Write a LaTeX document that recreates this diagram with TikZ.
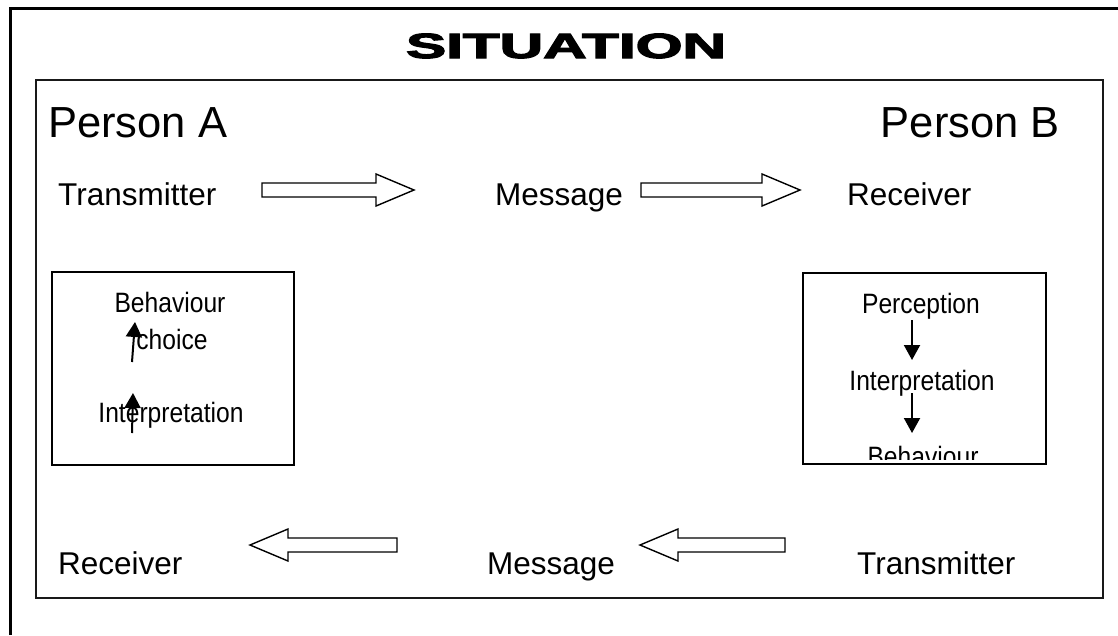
\documentclass[tikz,border=0pt]{standalone}
\usepackage{fontspec}
\setmainfont{Liberation Sans}
\newfontfamily\titlefont{Liberation Sans Bold}[FakeBold=3]
\usetikzlibrary{arrows.meta}
\newcommand\nar[1]{\scalebox{0.88}[1]{#1}}
\tikzset{
  big/.style={inner sep=0pt, font=\fontsize{43.5}{50}\selectfont},
  mid/.style={inner sep=0pt, font=\fontsize{31.5}{36}\selectfont},
  small/.style={inner sep=0pt, font=\fontsize{28}{32}\selectfont},
  blockarrow/.style={draw=black, line width=1.4pt, fill=white, line join=miter},
  thinarrow/.style={line width=2pt, -{Triangle[width=16pt,length=15pt]}},
  framebox/.style={draw=black, line width=1.5pt}
}
\newcommand\blockR[3]{\draw[blockarrow] (#1,#3-7) -- (#2-38,#3-7) -- (#2-38,#3-16) -- (#2,#3) -- (#2-38,#3+16) -- (#2-38,#3+7) -- (#1,#3+7) -- cycle;}
\newcommand\blockL[3]{\draw[blockarrow] (#1,#3-7) -- (#2+38,#3-7) -- (#2+38,#3-16) -- (#2,#3) -- (#2+38,#3+16) -- (#2+38,#3+7) -- (#1,#3+7) -- cycle;}
\begin{document}
\begin{tikzpicture}[x=1pt,y=-1pt]
\useasboundingbox (0,0) rectangle (1118,635);
% outer frame
\draw[line width=3pt] (10,635) -- (10,8) -- (1118,8);
% title
\node[inner sep=0pt, anchor=base] (title) at (566,58) {\scalebox{1.72}[1]{\titlefont\fontsize{35}{38}\selectfont SITUATION}};
% inner box
\draw[line width=2.5pt, draw=black!90] (36,80) rectangle (1103,598);
% persons
\node[big, anchor=base west] (pa) at (48,137) {Person A};
\node[big, anchor=base east] (pb) at (1060,137) {Person B};
% top row
\node[mid, anchor=base west] (tx1) at (58,205) {Transmitter};
\node[mid, anchor=base west] (msg1) at (495,205) {Message};
\node[mid, anchor=base west] (rx1) at (847,205) {Receiver};
\blockR{262}{414}{190}
\blockR{641}{800}{190}
% bottom row
\node[mid, anchor=base west] (rx2) at (58,574) {Receiver};
\node[mid, anchor=base west] (msg2) at (487,574) {Message};
\node[mid, anchor=base west] (tx2) at (857,574) {Transmitter};
\blockL{397}{250}{545}
\blockL{785}{640}{545}
% left box
\node[framebox, minimum width=242pt, minimum height=193pt, anchor=north west] (lbox) at (51,271) {};
\node[small, anchor=base] (lb1) at (170,312) {\nar{Behaviour}};
\node[small, anchor=base] (lb2) at (172,349) {\nar{choice}};
\node[small, anchor=base] (lb3) at (171,422) {\nar{Interpretation}};
\coordinate (la1s) at (132,362);
\coordinate (la1e) at (135,322);
\coordinate (la2s) at (132,433);
\coordinate (la2e) at (133,393);
\draw[thinarrow] (la1s) -- (la1e);
\draw[thinarrow] (la2s) -- (la2e);
% right box
\node[framebox, minimum width=243pt, minimum height=191pt, anchor=north west] (rbox) at (802,272) {};
\node[small, anchor=base] (rb1) at (921,313) {\nar{Perception}};
\node[small, anchor=base] (rb2) at (922,390) {\nar{Interpretation}};
\begin{scope}
\clip (803,273) rectangle (1044,459);
\node[small, anchor=base] (rb3) at (923,466) {\nar{Behaviour}};
\end{scope}
\coordinate (ra1s) at (912,320);
\coordinate (ra1e) at (912,360);
\coordinate (ra2s) at (912,393);
\coordinate (ra2e) at (912,433);
\draw[thinarrow] (ra1s) -- (ra1e);
\draw[thinarrow] (ra2s) -- (ra2e);
\end{tikzpicture}
\end{document}
